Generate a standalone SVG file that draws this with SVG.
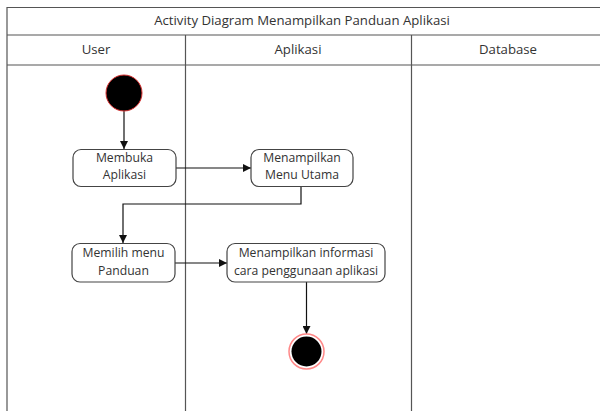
<svg xmlns="http://www.w3.org/2000/svg" width="600" height="411" viewBox="0 0 600 411">
<style>
.lane{fill:none;stroke:#555;stroke-width:1.2}
.t{font-family:"Open Sans","Liberation Sans",sans-serif;font-size:12.2px;fill:#333;text-anchor:middle}
.h{font-size:13.2px}
.act{fill:#fff;stroke:#444;stroke-width:1.2}
.c{fill:none;stroke:#111;stroke-width:1.2}
</style>
<defs>
<marker id="ah" viewBox="0 0 10 10" refX="10" refY="5" markerWidth="8" markerHeight="8" markerUnits="userSpaceOnUse" orient="auto">
<path d="M0,0 L10,5 L0,10 z" fill="#111"/>
</marker>
</defs>
<rect width="600" height="411" fill="#fff"/>
<g id="swimlanes">
<path class="lane" d="M7,411 V7.5 H600 M7,35 H600 M7,65 H600 M185.5,35 V411 M411.5,35 V411"/>
<text class="t h" x="302" y="25">Activity Diagram Menampilkan Panduan Aplikasi</text>
<text class="t h" x="96" y="54">User</text>
<text class="t h" x="298" y="54">Aplikasi</text>
<text class="t h" x="508" y="54">Database</text>
</g>
<g id="connectors">
<path class="c" d="M124,111 V149" marker-end="url(#ah)"/>
<path class="c" d="M176,168 H251" marker-end="url(#ah)"/>
<path class="c" d="M301,187 V204 H123 V243" marker-end="url(#ah)"/>
<path class="c" d="M175,263 H227" marker-end="url(#ah)"/>
<path class="c" d="M306.5,282 V334" marker-end="url(#ah)"/>
</g>
<g id="start">
<circle cx="124" cy="93" r="18" fill="#000" stroke="#d33" stroke-width="1"/>
</g>
<g id="membuka">
<rect class="act" x="73" y="149.5" width="103" height="37" rx="8"/>
<text class="t" x="124.5" y="162">Membuka</text>
<text class="t" x="124.5" y="179">Aplikasi</text>
</g>
<g id="menu-utama">
<rect class="act" x="251" y="149.5" width="102" height="37" rx="8"/>
<text class="t" x="302" y="162">Menampilkan</text>
<text class="t" x="302" y="179">Menu Utama</text>
</g>
<g id="memilih">
<rect class="act" x="72" y="243.5" width="103" height="38.5" rx="8"/>
<text class="t" x="123.5" y="257">Memilih menu</text>
<text class="t" x="123.5" y="274.5">Panduan</text>
</g>
<g id="informasi">
<rect class="act" x="227" y="243.5" width="158" height="38.5" rx="8"/>
<text class="t" x="306" y="257">Menampilkan informasi</text>
<text class="t" x="306" y="274.5">cara penggunaan aplikasi</text>
</g>
<g id="end">
<circle cx="306.5" cy="351.5" r="17.5" fill="#fff" stroke="#f88" stroke-width="1.5"/>
<circle cx="306.5" cy="351.5" r="15" fill="#000"/>
</g>
</svg>
